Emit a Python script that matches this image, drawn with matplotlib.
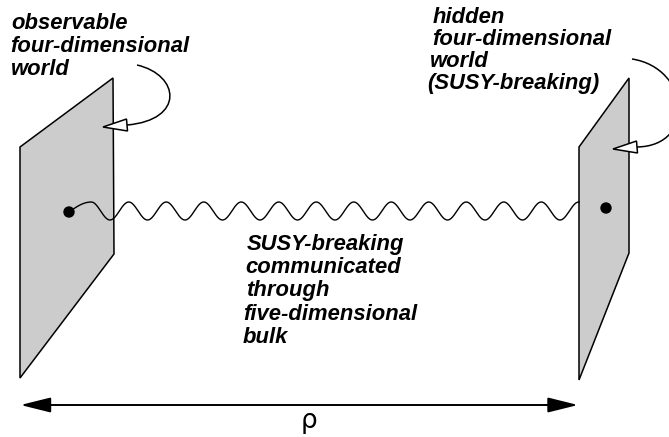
import numpy as np
import matplotlib.pyplot as plt
from matplotlib.patches import Polygon, Circle, FancyArrowPatch, PathPatch
from matplotlib.path import Path

# figure is laid out in pixel units (origin top-left)
W, H = 669, 437

# brane outlines
left_brane = [(20, 147), (113, 78), (114, 254), (20, 378)]
right_brane = [(579, 147), (629, 78), (629, 253), (579, 380)]

# particles on the branes
dot_left = (69, 212)
dot_right = (606, 208)

# wavy propagator
wave_start_crest = 91.25
wave_end = 579
wave_trough = 110
wave_period = 37.5
wave_amp = 9
wave_mid = 211

# curved pointer arrows (bezier control points, then head tip / base)
left_curve = [(137, 65), (180, 75), (185, 120), (127, 125)]
left_head = ((103, 127), (127, 125))
right_curve = [(632, 59), (690, 68), (697, 146), (637, 147)]
right_head = ((613, 149), (637, 147))

# labels
left_lines = ["observable", "four-dimensional", "world"]
left_x = [11, 10, 11]
left_y = [29, 52, 75]
right_lines = ["hidden", "four-dimensional", "world", "(SUSY-breaking)"]
right_x = [433, 432, 430, 427]
right_y = [23, 45, 67, 89]
mid_lines = ["SUSY-breaking", "communicated", "through", "five-dimensional", "bulk"]
mid_x = [247, 245, 246, 243, 243]
mid_y = [250, 273, 296, 320, 343]

# distance arrow
rho_x = (20.5, 578)
rho_y = 405
rho_label = "\u03c1"

fig = plt.figure(figsize=(W / 100, H / 100), dpi=100)
ax = fig.add_axes([0, 0, 1, 1])
ax.set_xlim(0, W)
ax.set_ylim(H, 0)
ax.axis('off')

for pts in (left_brane, right_brane):
    ax.add_patch(Polygon(pts, closed=True, fc='#cccccc', ec='black', lw=1.1, zorder=1))

# wave: a short rise from the dot, then a regular oscillation
x1 = np.linspace(dot_left[0], wave_start_crest, 30)
y1 = dot_left[1] - 10 * np.sin(np.pi / 2 * (x1 - dot_left[0]) / (wave_start_crest - dot_left[0]))
x2 = np.linspace(wave_start_crest, wave_end, 1500)
y2 = wave_mid + wave_amp * np.cos(2 * np.pi * (x2 - wave_trough) / wave_period)
ax.plot(np.r_[x1, x2], np.r_[y1, y2], color='black', lw=1.0, zorder=2)

for d in (dot_left, dot_right):
    ax.add_patch(Circle(d, 5, color='black', zorder=3))


def hollow_head(tip, base, half=6):
    tip = np.array(tip, float)
    base = np.array(base, float)
    v = tip - base
    n = np.array([-v[1], v[0]]) / np.hypot(*v) * half
    ax.add_patch(Polygon([tip, base + n, base - n], closed=True,
                         fc='white', ec='black', lw=1.1, zorder=4))


for curve, head in ((left_curve, left_head), (right_curve, right_head)):
    path = Path(curve, [Path.MOVETO, Path.CURVE4, Path.CURVE4, Path.CURVE4])
    ax.add_patch(PathPatch(path, fc='none', ec='black', lw=1.1, zorder=3))
    hollow_head(*head)

font = dict(family='Liberation Sans', weight='bold', style='italic', size=15.8)
for lines, xs, ys in ((left_lines, left_x, left_y),
                      (right_lines, right_x, right_y),
                      (mid_lines, mid_x, mid_y)):
    for s, x, y in zip(lines, xs, ys):
        ax.text(x, y, s, ha='left', va='baseline', **font)

arr = FancyArrowPatch((rho_x[0], rho_y), (rho_x[1], rho_y),
                      arrowstyle='<|-|>,head_length=18.5,head_width=4.6',
                      mutation_scale=1, shrinkA=0, shrinkB=0,
                      color='black', lw=1.4)
ax.add_patch(arr)
ax.text((rho_x[0] + rho_x[1]) / 2 + 10, 428, rho_label, ha='center', va='baseline',
        family='DejaVu Sans', size=19)

fig.savefig('out.png', dpi=100)
